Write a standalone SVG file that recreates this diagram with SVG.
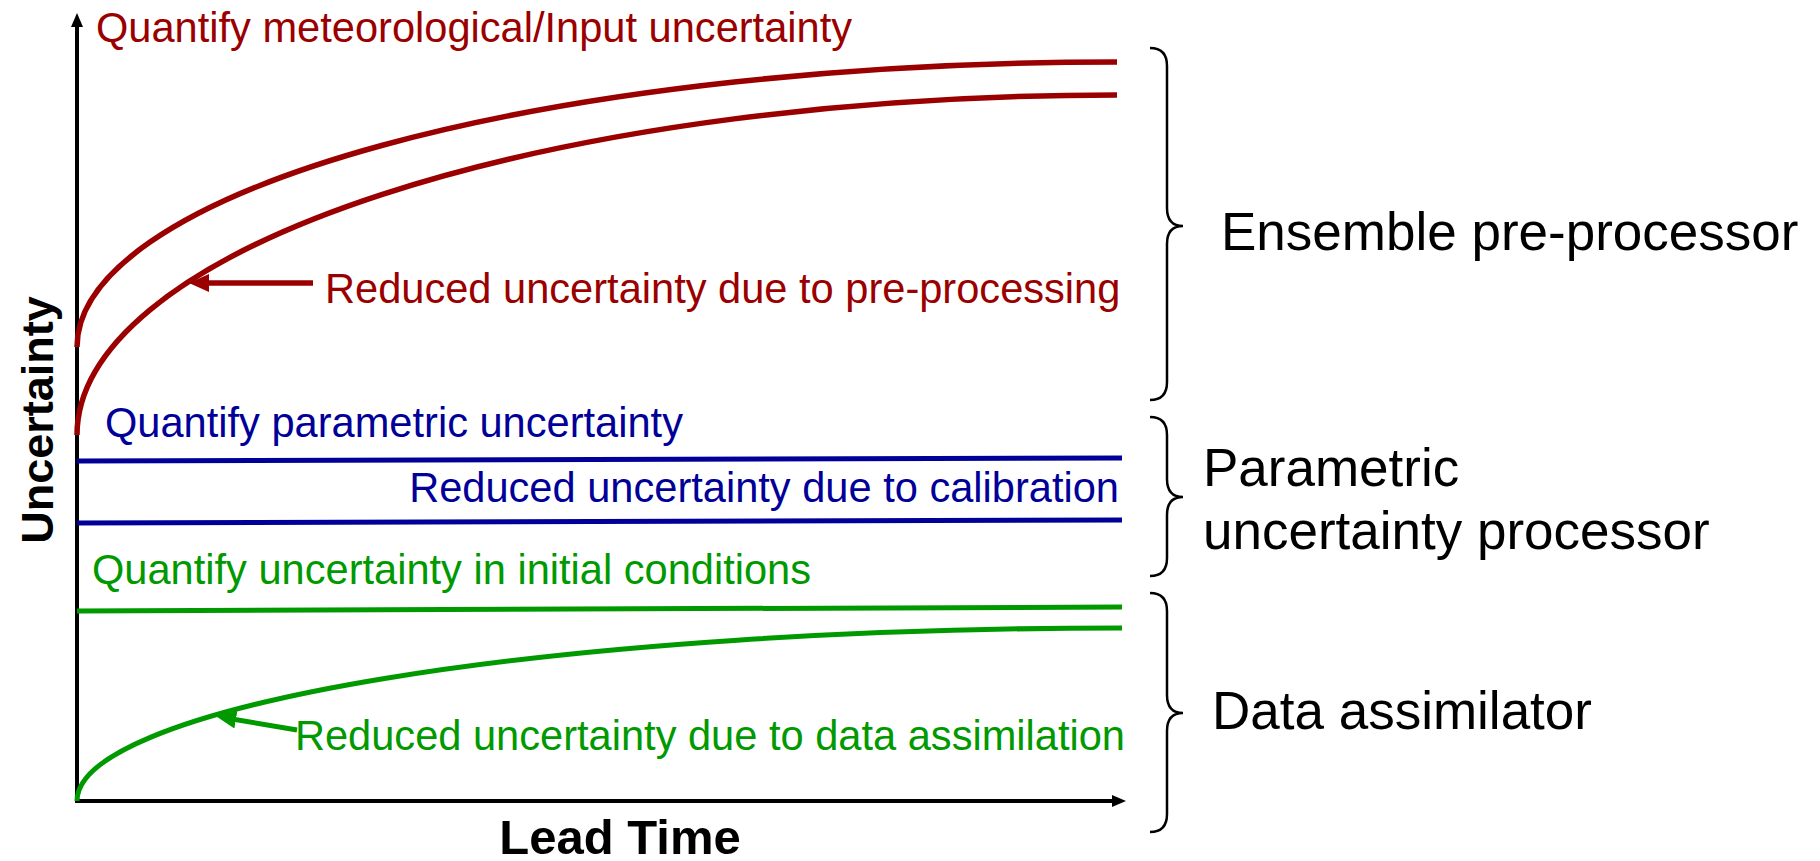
<svg xmlns="http://www.w3.org/2000/svg" width="1820" height="861" viewBox="0 0 1820 861">
<style>
  .t { font-family: "Liberation Sans", Arial, sans-serif; }
  .lbl { font-size: 41.6px; }
  .red { fill: #9b0000; }
  .blue { fill: #000099; }
  .green { fill: #009900; }
  .big { font-size: 53px; fill: #000; }
  .axlbl { font-size: 49px; font-weight: bold; fill: #000; }
  .ylbl { font-size: 45px; }
  .cr { fill: none; stroke: #9b0000; stroke-width: 5.5; }
  .cb { fill: none; stroke: #000099; stroke-width: 5; }
  .cg { fill: none; stroke: #009900; stroke-width: 5; }
  .ax { fill: none; stroke: #000; stroke-width: 4; }
  .brace { fill: none; stroke: #000; stroke-width: 2.5; }
</style>
<defs>
  <marker id="ahRed" viewBox="0 0 20 20" refX="10" refY="10" markerWidth="20" markerHeight="20" markerUnits="userSpaceOnUse" orient="auto">
    <path d="M0,1 L20,10 L0,19 z" fill="#9b0000"/>
  </marker>
  <marker id="ahGreen" viewBox="0 0 20 20" refX="10" refY="10" markerWidth="20" markerHeight="20" markerUnits="userSpaceOnUse" orient="auto">
    <path d="M0,1 L20,10 L0,19 z" fill="#009900"/>
  </marker>
  <marker id="ahBlack" viewBox="0 0 14 14" refX="7" refY="7" markerWidth="14" markerHeight="14" markerUnits="userSpaceOnUse" orient="auto">
    <path d="M0,1 L14,7 L0,13 z" fill="#000"/>
  </marker>
</defs>
<rect width="1820" height="861" fill="#fff"/>

<g id="axes">
  <path class="ax" d="M77,803 L77,20" marker-end="url(#ahBlack)"/>
  <path class="ax" d="M75,801 L1119,801" marker-end="url(#ahBlack)"/>
  <text class="t axlbl" x="620" y="854" text-anchor="middle">Lead Time</text>
  <text class="t axlbl ylbl" transform="translate(53,420) rotate(-90)" text-anchor="middle">Uncertainty</text>
</g>

<g id="curves">
  <path id="red-input" class="cr" d="M77,347 A1040,285 0 0 1 1117,62"/>
  <path id="red-reduced" class="cr" d="M77,435 A1040,340 0 0 1 1117,95"/>
  <path id="blue-param" class="cb" d="M77,461 L1122,458"/>
  <path id="blue-calib" class="cb" d="M77,523 L1122,520"/>
  <path id="green-initial" class="cg" d="M77,611 L1122,607"/>
  <path id="green-assim" class="cg" d="M77,801 A1045,173 0 0 1 1122,628"/>
</g>

<g id="connectors">
  <path class="cr" d="M313,283 L199,283" marker-end="url(#ahRed)"/>
  <path class="cg" d="M297,730 L226,718" marker-end="url(#ahGreen)"/>
</g>

<g id="labels">
  <text class="t lbl red" x="96" y="42">Quantify meteorological/Input uncertainty</text>
  <text class="t lbl red" x="325" y="303">Reduced uncertainty due to pre-processing</text>
  <text class="t lbl blue" x="105" y="437">Quantify parametric uncertainty</text>
  <text class="t lbl blue" x="1119" y="502" text-anchor="end">Reduced uncertainty due to calibration</text>
  <text class="t lbl green" x="92" y="584">Quantify uncertainty in initial conditions</text>
  <text class="t lbl green" x="1125" y="750" text-anchor="end">Reduced uncertainty due to data assimilation</text>
</g>

<g id="ensemble-pre-processor">
  <path class="brace" d="M1150,48 Q1167,48 1167,66 L1167,208 Q1167,226 1183,226 Q1167,226 1167,244 L1167,382 Q1167,400 1150,400"/>
  <text class="t big" x="1221" y="250">Ensemble pre-processor</text>
</g>

<g id="parametric-uncertainty-processor">
  <path class="brace" d="M1150,417 Q1167,417 1167,435 L1167,479 Q1167,497 1183,497 Q1167,497 1167,515 L1167,558 Q1167,576 1150,576"/>
  <text class="t big" x="1203" y="486">Parametric</text>
  <text class="t big" x="1203" y="549">uncertainty processor</text>
</g>

<g id="data-assimilator">
  <path class="brace" d="M1150,593 Q1167,593 1167,611 L1167,695 Q1167,713 1183,713 Q1167,713 1167,731 L1167,814 Q1167,832 1150,832"/>
  <text class="t big" x="1212" y="729">Data assimilator</text>
</g>
</svg>
